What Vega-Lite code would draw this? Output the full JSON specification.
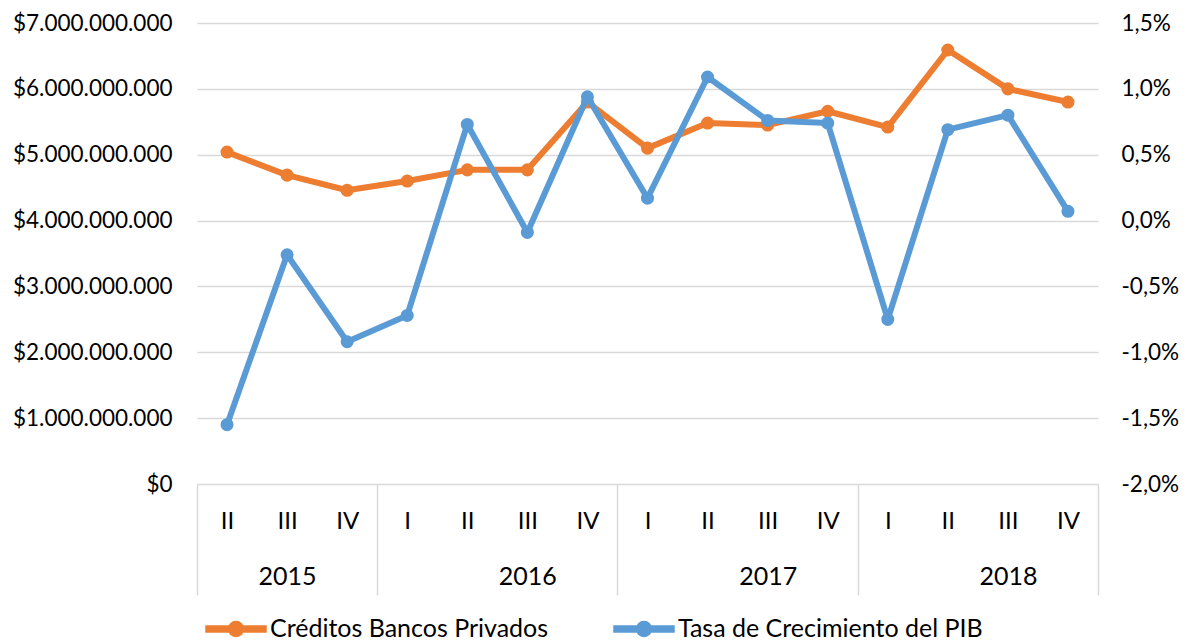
{
  "$schema": "https://vega.github.io/schema/vega-lite/v6.json",
  "width": 901,
  "height": 461,
  "autosize": "none",
  "padding": {"left": 197, "top": 23, "right": 93, "bottom": 158},
  "background": "white",
  "config": {
    "locale": {"number": {"decimal": ",", "thousands": ".", "grouping": [3], "currency": ["$", ""], "minus": "-"}},
    "font": "Lato",
    "view": {"stroke": null},
    "axis": {"labelFont": "Lato", "labelFontSize": 23, "labelColor": "#000000"}
  },
  "data": {"values": [
    {"idx": 0.5, "year": "2015", "q": "II", "creditos": 5040000000, "pib": -0.0155},
    {"idx": 1.5, "year": "2015", "q": "III", "creditos": 4690000000, "pib": -0.0026},
    {"idx": 2.5, "year": "2015", "q": "IV", "creditos": 4460000000, "pib": -0.0092},
    {"idx": 3.5, "year": "2016", "q": "I", "creditos": 4600000000, "pib": -0.0072},
    {"idx": 4.5, "year": "2016", "q": "II", "creditos": 4770000000, "pib": 0.0073},
    {"idx": 5.5, "year": "2016", "q": "III", "creditos": 4770000000, "pib": -0.0009},
    {"idx": 6.5, "year": "2016", "q": "IV", "creditos": 5800000000, "pib": 0.0094},
    {"idx": 7.5, "year": "2017", "q": "I", "creditos": 5100000000, "pib": 0.0017},
    {"idx": 8.5, "year": "2017", "q": "II", "creditos": 5480000000, "pib": 0.0109},
    {"idx": 9.5, "year": "2017", "q": "III", "creditos": 5450000000, "pib": 0.0076},
    {"idx": 10.5, "year": "2017", "q": "IV", "creditos": 5660000000, "pib": 0.0074},
    {"idx": 11.5, "year": "2018", "q": "I", "creditos": 5420000000, "pib": -0.0075},
    {"idx": 12.5, "year": "2018", "q": "II", "creditos": 6590000000, "pib": 0.0069},
    {"idx": 13.5, "year": "2018", "q": "III", "creditos": 6000000000, "pib": 0.0080},
    {"idx": 14.5, "year": "2018", "q": "IV", "creditos": 5800000000, "pib": 0.0007}
  ]},
  "layer": [
    {
      "mark": {"type": "line", "strokeWidth": 6, "strokeJoin": "round", "strokeCap": "round", "point": {"filled": true, "size": 170}},
      "encoding": {
        "x": {"field": "idx", "type": "quantitative", "scale": {"domain": [0, 15], "nice": false, "zero": false},
          "axis": {"orient": "bottom", "title": null, "values": [0.5,1.5,2.5,3.5,4.5,5.5,6.5,7.5,8.5,9.5,10.5,11.5,12.5,13.5,14.5],
            "labelExpr": "['II','III','IV','I','II','III','IV','I','II','III','IV','I','II','III','IV'][floor(datum.value)]",
            "ticks": false, "domain": false, "grid": false, "labelBaseline": "middle", "labelPadding": 37, "labelOverlap": false, "labelFlush": false, "labelFontSize": 24}},
        "y": {"field": "creditos", "type": "quantitative", "scale": {"domain": [0, 7000000000], "nice": false},
          "axis": {"orient": "left", "title": null, "values": [0,1000000000,2000000000,3000000000,4000000000,5000000000,6000000000,7000000000],
            "format": "$,.0f", "grid": true, "gridColor": "#d9d9d9", "gridWidth": 1.5, "domain": false, "ticks": false, "labelPadding": 25, "labelFontSize": 22.5}},
        "color": {"datum": "Créditos Bancos Privados", "type": "nominal",
          "scale": {"domain": ["Créditos Bancos Privados", "Tasa de Crecimiento del PIB"], "range": ["#ED7D31", "#5B9BD5"]},
          "legend": {"orient": "none", "legendX": 8, "legendY": 575, "direction": "horizontal", "title": null,
            "symbolType": "M-1,-0.1H1V0.1H-1Z M0.25,0A0.25,0.25,0,1,1,-0.25,0A0.25,0.25,0,1,1,0.25,0Z",
            "symbolSize": 3600, "labelFontSize": 25, "labelFont": "Lato", "labelColor": "#000000", "labelOffset": 3, "labelLimit": 0, "columnPadding": 62,
            "encode": {"symbols": {"update": {"fill": {"scale": "color", "field": "value"}, "stroke": {"value": "transparent"}, "opacity": {"value": 1}}}}}}
      }
    },
    {
      "mark": {"type": "line", "strokeWidth": 6, "strokeJoin": "round", "strokeCap": "round", "point": {"filled": true, "size": 170}},
      "encoding": {
        "x": {"field": "idx", "type": "quantitative",
          "axis": {"orient": "bottom", "title": null, "values": [0, 1.5, 3, 5.5, 7, 9.5, 11, 13.5, 15],
            "labelExpr": "datum.value == 1.5 ? '2015' : datum.value == 5.5 ? '2016' : datum.value == 9.5 ? '2017' : datum.value == 13.5 ? '2018' : ''",
            "ticks": true, "tickSize": 111, "tickColor": "#d9d9d9", "tickWidth": 1.5,
            "tickOpacity": {"condition": {"test": "datum.value % 1 != 0", "value": 0}, "value": 1},
            "domain": false, "grid": false, "labelBaseline": "middle", "labelPadding": -19, "labelOverlap": false, "labelFlush": false, "labelFontSize": 25}},
        "y": {"field": "pib", "type": "quantitative", "scale": {"domain": [-0.02, 0.015], "nice": false, "zero": false},
          "axis": {"orient": "right", "title": null, "values": [-0.02,-0.015,-0.01,-0.005,0,0.005,0.01,0.015],
            "format": ".1%", "grid": false, "domain": false, "ticks": false, "labelPadding": 23, "labelFontSize": 22.5}},
        "color": {"datum": "Tasa de Crecimiento del PIB", "type": "nominal"}
      }
    }
  ],
  "resolve": {"scale": {"y": "independent"}, "axis": {"x": "independent", "y": "independent"}}
}
